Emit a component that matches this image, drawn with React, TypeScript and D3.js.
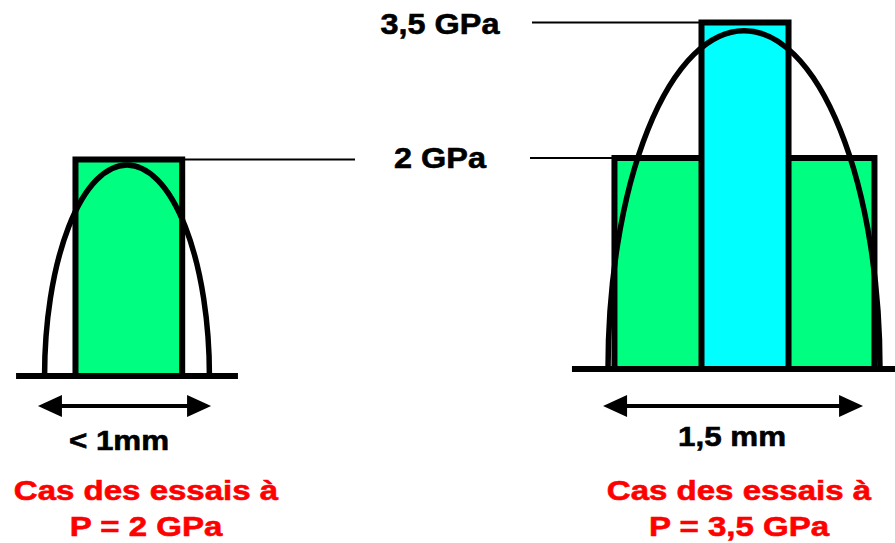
import React from 'react';
import * as d3 from 'd3';

// Hertz contact schematic: two test cases, flat blocks = applied pressure levels
const levelLabels = ['2 GPa', '3,5 GPa'];
const levelValues = [2, 3.5]; // GPa

// blocks drawn under each curve, in mm from contact centre
const leftBlocks = [{ x0: -0.28, x1: 0.3, p: 2 }];
const rightBlocks = [
  { x0: -0.704, x1: 0.709, p: 2 },
  { x0: -0.231, x1: 0.242, p: 3.5 },
];

const hertzHalfWidth = [0.448, 0.739]; // mm
const hertzPeak = [1.95, 3.41]; // GPa
const arrowSpans = [[-0.484, 0.457], [-0.766, 0.647]]; // mm
const groundSpans = [[-0.603, 0.603], [-0.935, 0.85]]; // mm
const widthLabels = ['< 1mm', '1,5 mm'];
const caseTitles = ['Cas des essais à', 'Cas des essais à'];
const caseLoads = ['P = 2 GPa', 'P = 3,5 GPa'];

const W = 895;
const H = 543;
const PX_PER_MM = 184;
const FONT = '"Liberation Sans", Arial, Helvetica, sans-serif';
const GREEN = '#00ff80';
const CYAN = '#00ffff';

type Block = { x0: number; x1: number; p: number };

function Arrow({ x0, x1, y }: { x0: number; x1: number; y: number }) {
  const len = 24;
  const hh = 11;
  return (
    <g>
      <line x1={x0 + 10} x2={x1 - 10} y1={y} y2={y} stroke="#000" strokeWidth={4} />
      <path d={`M${x0},${y}L${x0 + len},${y - hh}L${x0 + len},${y + hh}Z`} fill="#000" />
      <path d={`M${x1},${y}L${x1 - len},${y - hh}L${x1 - len},${y + hh}Z`} fill="#000" />
    </g>
  );
}

function StretchText({ x, y, s, size, fill, children }: any) {
  return (
    <text
      transform={`translate(${x},${y}) scale(${s},1)`}
      textAnchor="middle"
      fontFamily={FONT}
      fontWeight="bold"
      fontSize={size}
      fill={fill}
      stroke={fill}
      strokeWidth={0.6}
    >
      {children}
    </text>
  );
}

function Panel({ idx, cx, blocks, y }: { idx: number; cx: number; blocks: Block[]; y: d3.ScaleLinear<number, number> }) {
  const x = d3.scaleLinear().domain([-1, 1]).range([cx - PX_PER_MM, cx + PX_PER_MM]);
  const base = y(0);
  const a = x(hertzHalfWidth[idx]) - x(0);
  const h = base - y(hertzPeak[idx]);
  const curve = `M${x(-hertzHalfWidth[idx])},${base}A${a},${h} 0 0 1 ${x(hertzHalfWidth[idx])},${base}`;
  const [g0, g1] = groundSpans[idx];
  const [a0, a1] = arrowSpans[idx];
  const arrowY = 406;
  const labelY = [450, 446][idx];
  const labelX = [119, 732][idx];
  const titleX = [146, 739][idx];

  return (
    <g>
      {blocks.map((b, i) => (
        <rect
          key={i}
          x={x(b.x0)}
          y={y(b.p)}
          width={x(b.x1) - x(b.x0)}
          height={base - y(b.p)}
          fill={b.p === levelValues[0] ? GREEN : CYAN}
          stroke="#000"
          strokeWidth={6}
        />
      ))}
      <path d={curve} fill="none" stroke="#000" strokeWidth={5.5} />
      <line x1={x(g0)} x2={x(g1)} y1={base} y2={base} stroke="#000" strokeWidth={6} />
      <Arrow x0={x(a0)} x1={x(a1)} y={arrowY} />
      <StretchText x={labelX} y={labelY} s={1.12} size={28} fill="#000">{widthLabels[idx]}</StretchText>
      <StretchText x={titleX} y={500} s={1.18} size={28} fill="#ff0000">{caseTitles[idx]}</StretchText>
      <StretchText x={titleX} y={536} s={1.18} size={28} fill="#ff0000">{caseLoads[idx]}</StretchText>
    </g>
  );
}

export default function App() {
  const yLeft = d3.scaleLinear().domain([0, 2]).range([376, 159.5]);
  const yRight = d3.scaleLinear().domain([0, 2, 3.5]).range([369, 158, 22.5]);
  const xLeft = d3.scaleLinear().domain([-1, 1]).range([127 - PX_PER_MM, 127 + PX_PER_MM]);
  const xRight = d3.scaleLinear().domain([-1, 1]).range([744 - PX_PER_MM, 744 + PX_PER_MM]);
  const labelX = 440;

  return (
    <svg width={W} height={H} style={{ position: 'absolute', left: 0, top: 0, background: '#fff' }}>
      <rect width={W} height={H} fill="#fff" />
      {/* leader lines to the level labels */}
      <line x1={xLeft(leftBlocks[0].x1)} x2={355} y1={yLeft(levelValues[0])} y2={yLeft(levelValues[0])} stroke="#000" strokeWidth={2} />
      <line x1={530} x2={xRight(rightBlocks[0].x0)} y1={yRight(levelValues[0])} y2={yRight(levelValues[0])} stroke="#000" strokeWidth={2} />
      <line x1={532} x2={xRight(rightBlocks[1].x0)} y1={yRight(levelValues[1])} y2={yRight(levelValues[1])} stroke="#000" strokeWidth={2} />
      <StretchText x={labelX} y={yRight(levelValues[1]) + 11.5} s={1.08} size={30} fill="#000">{levelLabels[1]}</StretchText>
      <StretchText x={labelX} y={yRight(levelValues[0]) + 9.5} s={1.08} size={30} fill="#000">{levelLabels[0]}</StretchText>

      <Panel idx={0} cx={127} blocks={leftBlocks} y={yLeft} />
      <Panel idx={1} cx={744} blocks={rightBlocks} y={yRight} />
    </svg>
  );
}
